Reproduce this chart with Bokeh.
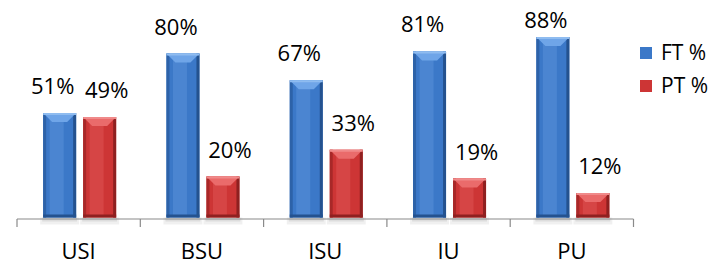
from bokeh.plotting import figure
from bokeh.models import Range1d, FixedTicker, LinearAxis, Legend, LegendItem
from bokeh.core.properties import value
from bokeh.embed import file_html
from bokeh.resources import INLINE

# ---- data ----
categories = ["USI", "BSU", "ISU", "IU", "PU"]
ft_pct = [51, 80, 67, 81, 88]
pt_pct = [49, 20, 33, 19, 12]
series_names = ["FT %", "PT %"]

# ---- geometry / scales ----
W, H = 721, 265
PX_X = 123.3          # pixels per category slot
X0_PX = 16.5          # pixel position of first category boundary
KY = 2.05             # pixels per percent
BASE_PX = 217         # pixel row of value 0
x_start = -X0_PX / PX_X
x_end = (W - X0_PX) / PX_X
y_end = BASE_PX / KY
y_start = y_end - H / KY


def px_x(px):
    return px / PX_X


def px_y(px):
    return px / KY


FONT = "Open Sans"
centers = [i + 0.5 for i in range(len(categories))]
bounds = [float(i) for i in range(len(categories) + 1)]

p = figure(width=W, height=H, output_backend="svg", toolbar_location=None,
           x_range=Range1d(x_start, x_end), y_range=Range1d(y_start, y_end),
           x_axis_location=None, y_axis_location=None,
           min_border_left=0, min_border_right=0, min_border_top=0, min_border_bottom=0)
p.outline_line_color = None
p.xgrid.visible = False
p.ygrid.visible = False
p.background_fill_color = "white"
p.border_fill_color = "white"

BW = px_x(33)


def draw_series(dodge_px, vals, body, light, lighter, dark, darker):
    xs = [c + px_x(dodge_px) for c in centers]
    # soft shadow below bars
    p.vbar(x=xs, width=BW + px_x(6), top=0, bottom=-px_y(7), fill_color="#000000",
           fill_alpha=0.06, line_color=None)
    p.vbar(x=xs, width=BW + px_x(2), top=0, bottom=-px_y(4), fill_color="#000000",
           fill_alpha=0.08, line_color=None)
    # body
    r = p.vbar(x=xs, width=BW, top=vals, bottom=0, fill_color=body, line_color=None)
    # inner lighter band
    p.vbar(x=[x - px_x(3) for x in xs], width=px_x(14), top=vals, bottom=0,
           fill_color=light, fill_alpha=0.3, line_color=None)
    # side faces
    p.vbar(x=[x - BW / 2 + px_x(1.5) for x in xs], width=px_x(3), top=vals, bottom=0,
           fill_color=dark, line_color=None)
    p.vbar(x=[x + BW / 2 - px_x(1.5) for x in xs], width=px_x(3), top=vals, bottom=0,
           fill_color=darker, line_color=None)
    # bottom face
    p.vbar(x=xs, width=BW, top=px_y(3), bottom=0, fill_color=darker, line_color=None)
    # top bevel (trapezoid)
    dx, dy = px_x(9), px_y(9)
    txs = [[x - BW / 2, x + BW / 2, x + BW / 2 - dx, x - BW / 2 + dx] for x in xs]
    tys = [[v, v, v - dy, v - dy] for v in vals]
    p.patches(xs=txs, ys=tys, fill_color=light, line_color=None)
    p.vbar(x=xs, width=BW, top=vals, bottom=[v - px_y(2) for v in vals],
           fill_color=lighter, line_color=None)
    return r, xs


r_ft, xs_ft = draw_series(-19, ft_pct, "#3b78c8", "#6fa5e8", "#8fbcf0", "#2d62a8", "#24528f")
r_pt, xs_pt = draw_series(21, pt_pct, "#cd3535", "#ea6b6b", "#f08a8a", "#a82828", "#8f2020")

# value labels (kept inside the chart area at the top)
LABEL_CAP = 83.4
LABEL_GAP = px_y(28)
p.text(x=[x + px_x(-7) for x in xs_ft],
       y=[min(v, LABEL_CAP) + LABEL_GAP for v in ft_pct],
       text=[f"{v}%" for v in ft_pct], text_align="center", text_baseline="alphabetic",
       text_font=value(FONT), text_font_size="22px", text_color="#000000")
p.text(x=[x + px_x(7) for x in xs_pt],
       y=[min(v, LABEL_CAP) + LABEL_GAP for v in pt_pct],
       text=[f"{v}%" for v in pt_pct], text_align="center", text_baseline="alphabetic",
       text_font=value(FONT), text_font_size="22px", text_color="#000000")

# category axis line with boundary ticks
yb = -px_y(1.5)
p.segment(x0=[bounds[0]], x1=[bounds[-1]], y0=[yb], y1=[yb],
          line_color="#8a8a8a", line_width=1.2)
p.segment(x0=bounds, x1=bounds, y0=[yb] * len(bounds), y1=[yb - px_y(8)] * len(bounds),
          line_color="#8a8a8a", line_width=1.2)

# category labels
ax_cat = LinearAxis(fixed_location=0, ticker=FixedTicker(ticks=centers),
                    major_label_overrides={c: n for c, n in zip(centers, categories)})
ax_cat.axis_line_color = None
ax_cat.major_tick_line_color = None
ax_cat.major_tick_out = 0
ax_cat.major_tick_in = 0
ax_cat.minor_tick_out = 0
ax_cat.minor_tick_in = 0
ax_cat.major_label_standoff = 17
ax_cat.major_label_text_font = FONT
ax_cat.major_label_text_font_size = "22px"
ax_cat.major_label_text_color = "#000000"
p.add_layout(ax_cat, "below")

legend = Legend(items=[LegendItem(label=series_names[0], renderers=[r_ft]),
                       LegendItem(label=series_names[1], renderers=[r_pt])],
                location=(638, 166), orientation="vertical",
                glyph_width=15, glyph_height=15, label_height=16, spacing=5,
                padding=0, margin=0, label_standoff=8,
                border_line_color=None, background_fill_alpha=0,
                label_text_font=FONT, label_text_font_size="21px",
                label_text_color="#000000")
p.add_layout(legend)

open("out.html", "w").write(file_html(p, INLINE))
